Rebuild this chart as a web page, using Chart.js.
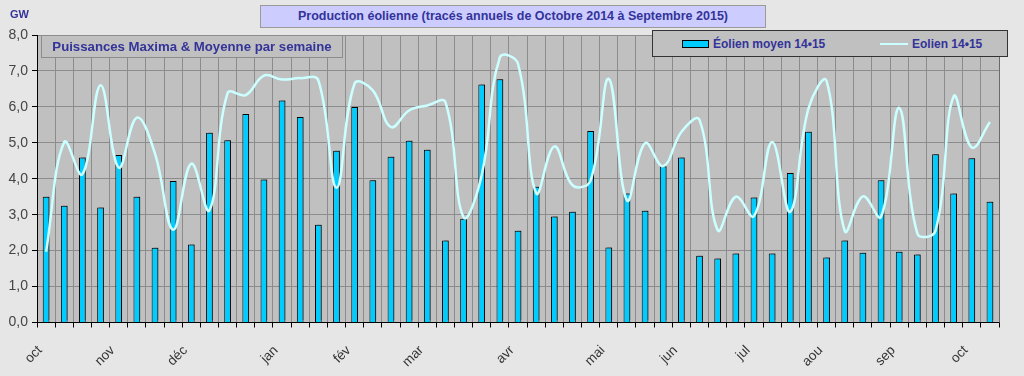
<!DOCTYPE html>
<html>
<head>
<meta charset="utf-8">
<script src="https://cdn.jsdelivr.net/npm/chart.js@4.4.2/dist/chart.umd.min.js"></script>
<style>
  html, body { margin: 0; padding: 0; background: #e6e6e6; }
  #wrap { position: relative; width: 1024px; height: 376px; font-family: "Liberation Sans", Arial, sans-serif; }
  #chart { position: absolute; left: 0; top: 0; }
  .box { position: absolute; box-sizing: border-box; color: #333399; font-weight: bold; text-align: center; white-space: nowrap; }
  #title { left: 260px; top: 5px; width: 506px; height: 23px; line-height: 21px; font-size: 12.5px; background: #ccccff; border: 1px solid #9a9a9a; }
  #subtitle { left: 41px; top: 35px; width: 302px; height: 23px; line-height: 21px; font-size: 13.2px; background: #c0c0c0; border: 1px solid #8c8c8c; }
  #unit { left: 10px; top: 8px; font-size: 11px; }
  #legend { left: 652px; top: 30px; width: 356px; height: 27px; background: #c0c0c0; border: 1px solid #333; font-size: 12px; }
  .lg-item { position: absolute; top: 6px; line-height: 14px; }
  .sw-bar { position: absolute; width: 25px; height: 6px; background: #00ccff; border: 1px solid #000; }
  .sw-line { position: absolute; width: 28px; height: 2px; background: #ccffff; }
</style>
</head>
<body>
<div id="wrap">
  <canvas id="chart" width="1024" height="376"></canvas>
  <div class="box" id="title">Production éolienne (tracés annuels de Octobre 2014 à Septembre 2015)</div>
  <div class="box" id="unit">GW</div>
  <div class="box" id="subtitle">Puissances Maxima &amp; Moyenne par semaine</div>
  <div class="box" id="legend"></div>
</div>
<script>
// ---------- DATA (53 semaines, oct 2014 -> oct 2015) ----------
const monthNames = ["oct", "nov", "déc", "jan", "fév", "mar", "avr", "mai", "jun", "jul", "aou", "sep", "oct"];
const monthWeek  = [0, 4, 8, 13, 17, 21, 26, 31, 35, 39, 43, 47, 51];

const moyen = [3.50, 3.25, 4.59, 3.20, 4.66, 3.50, 2.08, 3.94, 2.17, 5.28,
               5.07, 5.80, 3.98, 6.18, 5.72, 2.72, 4.78, 6.00, 3.96, 4.61,
               5.06, 4.81, 2.28, 2.89, 6.62, 6.77, 2.55, 3.78, 2.95, 3.08,
               5.33, 2.09, 3.59, 3.11, 4.35, 4.59, 1.86, 1.78, 1.92, 3.48,
               1.92, 4.16, 5.31, 1.81, 2.28, 1.94, 3.96, 1.97, 1.89, 4.68,
               3.59, 4.57, 3.36];

const maxima = [1.97, 5.02, 4.12, 6.60, 4.31, 5.70, 4.70, 2.58, 4.42, 3.12,
                6.38, 6.33, 6.87, 6.76, 6.80, 6.74, 3.75, 6.65, 6.46, 5.44,
                5.90, 6.04, 6.13, 2.93, 4.10, 7.38, 7.20, 3.60, 4.90, 3.82,
                3.95, 6.78, 3.40, 4.99, 4.35, 5.30, 5.64, 2.57, 3.50, 2.96,
                5.02, 3.08, 5.95, 6.72, 2.55, 3.51, 2.94, 5.97, 2.48, 2.55,
                6.29, 4.87, 5.58];

const seriesNames = ["Éolien moyen 14•15", "Eolien 14•15"];

// one label slot per week, month name on its first week
const weekLabels = moyen.map(() => "");
monthWeek.forEach((w, i) => { weekLabels[w] = monthNames[i]; });

// ---------- PLOT BACKGROUND / FRAME ----------
const plotFrame = {
  id: "plotFrame",
  beforeDraw(chart) {
    const { ctx, chartArea: a } = chart;
    ctx.save();
    ctx.fillStyle = "#c0c0c0";
    ctx.fillRect(a.left, a.top, a.right - a.left, a.bottom - a.top);
    ctx.restore();
  },
  beforeDatasetDraw(chart, args) {
    if (args.index !== 0) return;
    const ctx = chart.ctx;
    ctx.save();
    ctx.shadowColor = "rgba(0,0,0,0.35)";
    ctx.shadowOffsetX = 2;
    ctx.shadowOffsetY = -2;
  },
  afterDatasetDraw(chart, args) {
    if (args.index === 0) chart.ctx.restore();
  },
  afterDraw(chart) {
    const { ctx, chartArea: a } = chart;
    ctx.save();
    ctx.strokeStyle = "#6a6a6a";
    ctx.lineWidth = 1;
    ctx.beginPath();
    ctx.moveTo(Math.round(a.right) + 0.5, a.top);
    ctx.lineTo(Math.round(a.right) + 0.5, a.bottom);
    ctx.stroke();
    ctx.restore();
  }
};

const FONT = "'Liberation Sans', Arial, sans-serif";

new Chart(document.getElementById("chart"), {
  type: "bar",
  data: {
    labels: weekLabels,
    datasets: [
      {
        type: "bar",
        label: seriesNames[0],
        data: moyen,
        backgroundColor: "#00ccff",
        borderColor: "#000000",
        borderWidth: 1,
        categoryPercentage: 1,
        barPercentage: 0.37,
        order: 2
      },
      {
        type: "line",
        label: seriesNames[1],
        data: maxima,
        borderColor: "#ccffff",
        borderWidth: 2.5,
        pointRadius: 0,
        tension: 0.4,
        fill: false,
        order: 1
      }
    ]
  },
  options: {
    responsive: false,
    animation: false,
    layout: { padding: { top: 35, right: 25, left: 0, bottom: 0 } },
    plugins: { legend: { display: false }, tooltip: { enabled: false } },
    scales: {
      x: {
        offset: true,
        grid: { offset: true, color: "#8c8c8c", tickColor: "#000", tickLength: 5 },
        border: { color: "#000", width: 1 },
        ticks: {
          autoSkip: false, minRotation: 45, maxRotation: 45, labelOffset: -6, padding: 15,
          color: "#333", font: { family: FONT, size: 13.5 }
        },
        afterFit(scale) { scale.height = 53.5; }
      },
      y: {
        min: 0, max: 8,
        grid: { color: "#8c8c8c", tickColor: "#000", tickLength: 5 },
        border: { color: "#000", width: 1 },
        ticks: {
          stepSize: 1, padding: 4, color: "#444",
          font: { family: FONT, size: 14 },
          callback: v => v.toFixed(1).replace(".", ",")
        },
        afterFit(scale) { scale.width = 37; }
      }
    }
  },
  plugins: [plotFrame]
});

// ---------- LEGEND (html, built from series names) ----------
const legend = document.getElementById("legend");
legend.innerHTML =
  '<span class="sw-bar" style="left:29px;top:9px"></span>' +
  '<span class="lg-item" style="left:60px">' + seriesNames[0] + '</span>' +
  '<span class="sw-line" style="left:227px;top:12px"></span>' +
  '<span class="lg-item" style="left:259px">' + seriesNames[1] + '</span>';
</script>
</body>
</html>
